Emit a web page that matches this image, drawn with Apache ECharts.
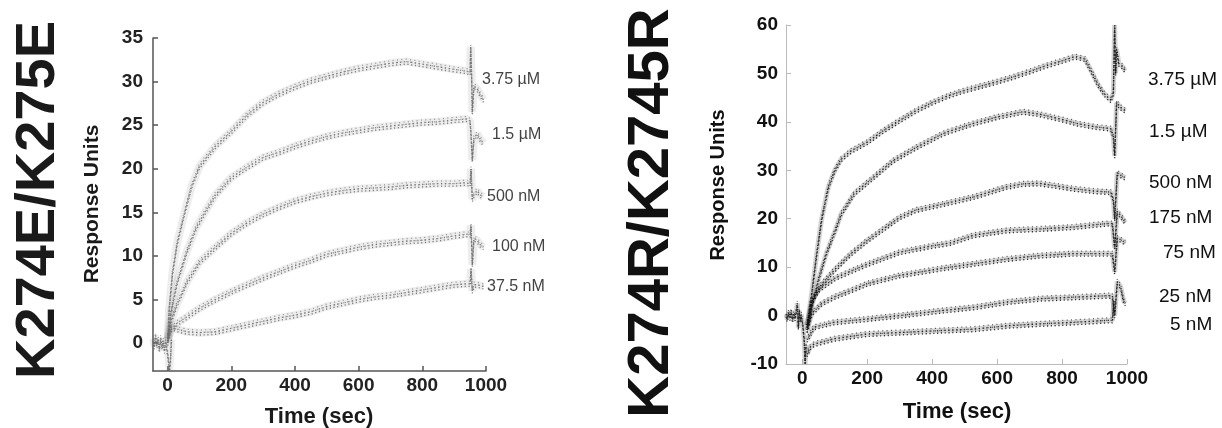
<!DOCTYPE html>
<html><head><meta charset="utf-8">
<script src="https://cdn.jsdelivr.net/npm/echarts@6/dist/echarts.min.js"></script>
<style>html,body{margin:0;padding:0;background:#fff}#c{width:1222px;height:428px}</style>
</head><body><div id="c"></div>
<script>
// ---------- Left panel: K274E/K275E ----------
const leftYTicks = [0,5,10,15,20,25,30,35];
const leftXTicks = [0,200,400,600,800,1000];
const leftNames = ['3.75 µM','1.5 µM','500 nM','100 nM','37.5 nM'];
const leftBaseline = [[-46,0.5],[-42,-0.4],[-38,0.9],[-34,-0.3],[-30,0.5],[-26,-0.8],[-22,0.6],[-18,-0.5],[-14,0.3],[-10,-0.9],[-6,0.4],[-3,-0.6],[0,-1.2],[3,-2.2],[6,-3.1],[9,-1.8],[12,0.4]];
const left375uM = [[0,0.5],[5,4],[15,8],[30,11.5],[50,14.5],[75,18],[100,20.3],[150,22.6],[200,24.3],[250,26.2],[300,27.6],[350,28.6],[400,29.4],[450,30.1],[500,30.6],[550,31.1],[600,31.5],[650,31.8],[700,32.1],[750,32.3],[800,32],[850,31.7],[900,31.4],[940,31.2],[950,31],[952,34],[955,30.5],[957,26.5],[962,29.5],[972,29.2],[982,28.5],[992,27.9]];
const left15uM = [[0,0.5],[10,3.5],[30,7],[60,10.5],[90,13.3],[120,15.2],[150,17],[200,19],[250,20.2],[300,21.3],[350,21.9],[400,22.6],[450,23.2],[500,23.7],[550,24.1],[600,24.4],[650,24.7],[700,24.9],[750,25.1],[800,25.3],[850,25.4],[900,25.6],[940,25.7],[950,25.5],[953,24],[957,21],[962,23.5],[972,24],[982,23.4],[992,22.9]];
const left500nM = [[0,0.5],[10,2.5],[30,4.5],[60,7],[100,9.3],[150,11],[200,12.6],[250,13.8],[300,14.8],[350,15.6],[400,16.3],[450,16.8],[500,17.2],[550,17.5],[600,17.7],[650,17.8],[700,17.9],[750,18.1],[800,18.2],[850,18.3],[900,18.3],[940,18.4],[950,18.2],[953,20],[957,16.5],[962,17],[972,17.5],[982,17],[992,16.8]];
const left100nM = [[0,0.3],[10,1.5],[30,2.3],[60,3],[100,4],[150,5],[200,5.9],[250,6.7],[300,7.5],[350,8.2],[400,8.9],[450,9.5],[500,10.2],[550,10.6],[600,11],[650,11.3],[700,11.5],[750,11.7],[800,11.8],[850,12],[900,12.3],[940,12.5],[950,12.4],[953,13.5],[957,9],[962,12],[972,11.8],[982,11.3],[992,11]];
const left375nM = [[0,0],[10,1.8],[30,1.6],[60,1.3],[100,1.2],[150,1.3],[200,1.7],[250,2.1],[300,2.5],[350,2.9],[400,3.2],[450,3.6],[500,4.2],[550,4.6],[600,5],[650,5.3],[700,5.5],[750,5.8],[800,6.1],[850,6.4],[900,6.7],[940,6.8],[950,6.8],[953,8.5],[957,6],[962,6.7],[972,6.7],[982,6.6],[992,6.5]];

// ---------- Right panel: K274R/K2745R ----------
const rightYTicks = [-10,0,10,20,30,40,50,60];
const rightXTicks = [0,200,400,600,800,1000];
const rightNames = ['3.75 µM','1.5 µM','500 nM','175 nM','75 nM','25 nM','5 nM'];
const rightBaseline = [[-50,0.3],[-46,-0.8],[-42,0.8],[-38,-0.5],[-34,1],[-30,-1],[-26,0.5],[-22,-0.6],[-18,1.2],[-15,2.5],[-12,-2.5],[-9,1],[-6,-1],[-3,0.2],[2,-2],[6,-5],[9,-10],[12,-6]];
const right375uM = [[15,-2],[30,5],[45,13],[60,20],[80,26.5],[100,30],[120,32.3],[150,34],[200,35.8],[250,38.2],[300,40.3],[350,42.3],[400,44],[450,45.4],[500,46.5],[550,47.4],[600,48.3],[650,49.3],[700,50.4],[750,51.6],[800,52.6],[840,53.5],[870,53],[890,50.5],[910,47.8],[930,45.8],[950,44.5],[958,46],[962,60],[965,50],[968,55],[975,52],[985,51.5],[995,50.5]];
const right15uM = [[15,-3],[30,2],[50,7.5],[75,13],[100,17.3],[120,21],[160,25.2],[220,28.6],[280,32],[350,34.7],[425,37.3],[450,38],[528,39.7],[600,41],[680,42.1],[730,41.6],[800,40.5],[850,39.6],[900,39],[950,38.6],[958,37],[962,33],[968,44],[980,43],[995,42.3]];
const right500nM = [[15,-2],[30,3],[60,6.5],[100,9.5],[150,12.8],[200,15.5],[250,17.9],[300,20.3],[350,21.8],[425,22.9],[528,24.5],[630,26.6],[680,27.2],[730,27.3],[780,26.8],[836,26.2],[900,25.7],[950,25.5],[958,24],[962,20],[970,29.5],[985,28.8],[995,28.5]];
const right175nM = [[15,-2],[30,3],[50,5.3],[100,7.7],[150,9.2],[200,10.6],[300,13.1],[400,14.4],[456,15],[528,16.6],[631,17.6],[733,17.9],[836,18.3],[938,19],[955,19],[962,14],[970,21.5],[985,20.2],[995,19.2]];
const right75nM = [[15,-3],[30,0.5],[60,2.5],[97,3.8],[150,5.2],[200,6.6],[300,8.3],[425,9.7],[528,10.7],[631,11.7],[733,12.4],[836,12.8],[938,12.8],[955,12.8],[962,9],[970,16],[985,15.5],[995,15]];
const right25nM = [[15,-5],[36,-2.4],[97,-1.4],[200,-0.7],[300,0],[425,1],[528,1.7],[631,2.8],[733,3.5],[836,3.8],[938,4.1],[955,4.1],[962,0],[970,7],[980,6],[990,3],[995,2.5]];
const right5nM = [[15,-8],[25,-6.5],[36,-5.9],[97,-4.8],[200,-3.8],[300,-3.5],[425,-3.1],[528,-2.8],[631,-2.1],[733,-1.7],[836,-1.4],[938,-1],[955,-1],[960,3]];

const FONT = "'Liberation Sans', Arial, Helvetica, sans-serif";
const leftData = [left375uM, left15uM, left500nM, left100nM, left375nM];
const rightData = [right375uM, right15uM, right500nM, right175nM, right75nM, right25nM, right5nM];

function traceSeries(data, axisIdx, color, name, bandW, bandOp) {
  const base = {type:'line', name:name, xAxisIndex:axisIdx, yAxisIndex:axisIdx, data:data,
    showSymbol:false, symbol:'none', silent:true, animation:false};
  return [
    Object.assign({}, base, {lineStyle:{color:color, width:bandW, opacity:bandOp}, z:2}),
    Object.assign({}, base, {lineStyle:{color:color, width:1.4, type:[1.2,2.6], opacity:0.85,
      shadowColor:color, shadowOffsetY:2.5, shadowBlur:0}, z:3}),
    Object.assign({}, base, {lineStyle:{color:color, width:1.2, type:[1,3.4], dashOffset:1.7, opacity:0.7,
      shadowColor:color, shadowOffsetY:-2.5, shadowBlur:0}, z:3})
  ];
}

const series = [];
series.push(...traceSeries(leftBaseline, 0, '#6a6a6a', 'baseline', 7, 0.12));
leftData.forEach((d,i)=>series.push(...traceSeries(d, 0, '#6a6a6a', leftNames[i], 8, 0.12)));
series.push(...traceSeries(rightBaseline, 1, '#111', 'baseline', 5, 0.18));
rightData.forEach((d,i)=>series.push(...traceSeries(d, 1, '#111', rightNames[i], 5, 0.18)));

const plain = v => String(v);
function xAxisCfg(gi, min, ticks, color, lw, lblColor) {
  return {type:'value', gridIndex:gi, min:min, max:1000, splitLine:{show:false},
    axisLine:{show:true, onZero:false, lineStyle:{color:color, width:lw}},
    axisTick:{show:true, inside:true, length:5, customValues:ticks, lineStyle:{color:color, width:lw}},
    axisLabel:{customValues:ticks, formatter:plain, margin:5, fontFamily:FONT, fontWeight:'bold', fontSize:19, color:lblColor}};
}
function yAxisCfg(gi, min, max, ticks, color, lw, lblColor, margin) {
  return {type:'value', gridIndex:gi, min:min, max:max, splitLine:{show:false},
    axisLine:{show:true, onZero:false, lineStyle:{color:color, width:lw}},
    axisTick:{show:true, inside:true, length:5, customValues:ticks, lineStyle:{color:color, width:lw}},
    axisLabel:{customValues:ticks, formatter:plain, margin:margin, fontFamily:FONT, fontWeight:'bold', fontSize:19, color:lblColor}};
}

const graphics = [];
function txt(x, y, text, size, weight, color, rot, align) {
  graphics.push({type:'text', x:x, y:y, rotation:rot||0, silent:true,
    style:{text:text, fontFamily:FONT, fontSize:size, fontWeight:weight, fill:color,
      align:align||'center', verticalAlign:'middle'}});
}
// big panel titles
txt(39, 200, 'K274E/K275E', 56, 'bold', '#1a1a1a', Math.PI/2);
txt(652, 213, 'K274R/K2745R', 58, 'bold', '#111', Math.PI/2);
// axis titles
txt(92, 204, 'Response Units', 21, 'bold', '#1a1a1a', Math.PI/2);
txt(319, 417, 'Time (sec)', 22, 'bold', '#1a1a1a');
txt(718, 185, 'Response Units', 20, 'bold', '#111', Math.PI/2);
txt(957, 412, 'Time (sec)', 22, 'bold', '#111');
// concentration labels
const leftLabelPos = [[482,80],[492,135],[487,197],[492,247],[487,287]];
leftNames.forEach((n,i)=>txt(leftLabelPos[i][0], leftLabelPos[i][1], n, 16, 'normal', '#444', 0, 'left'));
const rightLabelPos = [[1148,80],[1149,132],[1149,183],[1149,218],[1163,253],[1159,297],[1170,325]];
rightNames.forEach((n,i)=>txt(rightLabelPos[i][0], rightLabelPos[i][1], n, 19, 'normal', '#111', 0, 'left'));

const chart = echarts.init(document.getElementById('c'), null, {renderer:'canvas'});
chart.setOption({
  backgroundColor:'#fff',
  animation:false,
  grid:[
    {left:153, top:38, width:333, height:333, outerBoundsMode:'none', containLabel:false},
    {left:786, top:25, width:341, height:339, outerBoundsMode:'none', containLabel:false}
  ],
  xAxis:[
    xAxisCfg(0, -46, leftXTicks, '#555', 1.5, '#222'),
    xAxisCfg(1, -50, rightXTicks, '#bbb', 1, '#111')
  ],
  yAxis:[
    yAxisCfg(0, -3.2, 35, leftYTicks, '#555', 1.5, '#222', 10),
    yAxisCfg(1, -10, 60, rightYTicks, '#bbb', 1, '#111', 8)
  ],
  series:series,
  graphic:graphics
});
</script></body></html>
